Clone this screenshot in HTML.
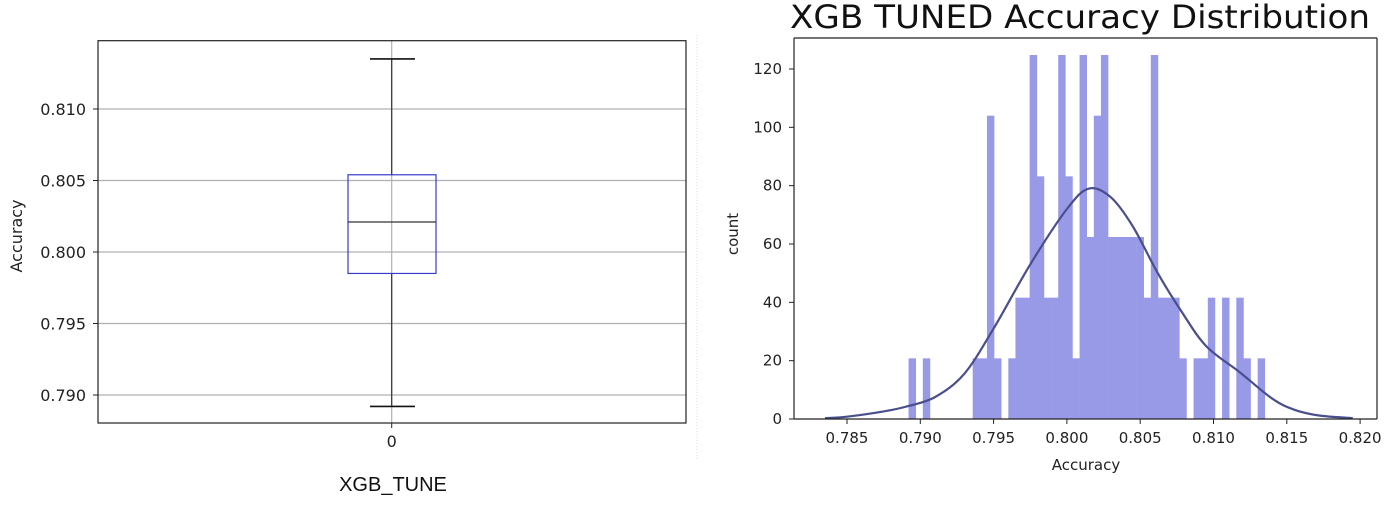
<!DOCTYPE html>
<html><head><meta charset="utf-8"><style>
html,body{margin:0;padding:0;background:#fff;}
svg{display:block;font-family:"DejaVu Sans","Liberation Sans",sans-serif;}
</style></head><body>
<svg id="c" width="1400" height="510" viewBox="0 0 1400 510" xmlns="http://www.w3.org/2000/svg">
<g id="box"></g>
<g id="hist"></g>
</svg>
<script>
// Boxplot data
const boxTicks = [0.790, 0.795, 0.800, 0.805, 0.810];
const boxStats = {wlo: 0.7892, q1: 0.7985, med: 0.8021, q3: 0.8054, whi: 0.8135};
// Histogram data
const binStart = 0.7892;
const binEnd = 0.8135;
const histCounts = [20.8,0,20.8,0,0,0,0,0,0,20.8,20.8,104,20.8,0,20.8,41.6,41.6,124.8,83.2,41.6,41.6,124.8,83.2,20.8,124.8,62.4,104,124.8,62.4,62.4,62.4,62.4,62.4,41.6,124.8,41.6,41.6,41.6,20.8,0,20.8,20.8,41.6,0,41.6,0,41.6,20.8,0,20.8];
const kdeX = [0.7835,0.785,0.7875,0.7890,0.7910,0.7930,0.7950,0.7975,0.8000,0.8015,0.8030,0.8045,0.8062,0.8078,0.8095,0.8118,0.8140,0.8155,0.8172,0.8195];
const kdeY = [0.3,0.8,2.6,4.2,7.5,15.5,31,53,72,79,76,66,50,37,25,16,7,3.2,1.2,0.3];
const xTicks = [0.785,0.790,0.795,0.800,0.805,0.810,0.815,0.820];
const yTicks = [0,20,40,60,80,100,120];

const NS="http://www.w3.org/2000/svg";
function mk(parent,tag,attrs,text){const e=document.createElementNS(NS,tag);for(const k in attrs)e.setAttribute(k,attrs[k]);if(text!==undefined)e.textContent=text;parent.appendChild(e);return e;}

// ---- Boxplot ----
const B=document.getElementById('box');
const by=v=>395-(v-0.790)/0.005*71.5;
const bx0=98,bx1=686,btop=40.7,bbot=423,bc=391.7;
boxTicks.forEach(t=>{
  const g=mk(B,'line',{x1:bx0,x2:bx1,y1:by(t),y2:by(t),stroke:'#b0b0b0','stroke-width':1.2});
  
  
  const tk=mk(B,'line',{x1:bx0-5,x2:bx0,y1:by(t),y2:by(t),stroke:'#222','stroke-width':1});
  
  
  const l=mk(B,'text',{x:bx0-12,y:by(t)+6,'text-anchor':'end','font-size':16,fill:'#222'},t.toFixed(3));
  
  
});
let vg=mk(B,'line',{x1:bc,x2:bc,y1:btop,y2:bbot,stroke:'#b0b0b0','stroke-width':1.2});


let w1=mk(B,'line',{x1:bc,x2:bc,y1:by(boxStats.whi),y2:by(boxStats.q3),stroke:'#333','stroke-width':1.2});


let w2=mk(B,'line',{x1:bc,x2:bc,y1:by(boxStats.q1),y2:by(boxStats.wlo),stroke:'#333','stroke-width':1.2});


let c1=mk(B,'line',{x1:370,x2:415,y1:by(boxStats.whi),y2:by(boxStats.whi),stroke:'#111','stroke-width':1.6});


let c2=mk(B,'line',{x1:370,x2:415,y1:by(boxStats.wlo),y2:by(boxStats.wlo),stroke:'#111','stroke-width':1.6});


let bxr=mk(B,'rect',{x:348,y:by(boxStats.q3),width:88,height:by(boxStats.q1)-by(boxStats.q3),fill:'none',stroke:'#3a3acc','stroke-width':1.2});


let md=mk(B,'line',{x1:348,x2:436,y1:by(boxStats.med),y2:by(boxStats.med),stroke:'#333','stroke-width':1.2});


let fr=mk(B,'rect',{x:bx0,y:btop,width:bx1-bx0,height:bbot-btop,fill:'none',stroke:'#222','stroke-width':1.2});


let xt=mk(B,'line',{x1:bc,x2:bc,y1:bbot,y2:bbot+5,stroke:'#222'});


let xl=mk(B,'text',{x:bc,y:bbot+24,'text-anchor':'middle','font-size':16,fill:'#222'},'0');


let yt=mk(B,'text',{x:0,y:0,'text-anchor':'middle','font-size':16,fill:'#222',transform:'translate(22,236) rotate(-90)'},'Accuracy');


let xtt=mk(B,'text',{x:393,y:491,'text-anchor':'middle','font-size':20,fill:'#111','font-family':'Liberation Sans, sans-serif'},'XGB_TUNE');


let sep=mk(B,'line',{x1:697,x2:697,y1:35,y2:460,stroke:'#ddd','stroke-width':1,'stroke-dasharray':'1 2'});



// ---- Histogram ----
const H=document.getElementById('hist');
const hx0=794,hx1=1377,htop=38,hbot=419;
const hx=v=>847+(v-0.785)/0.005*73.3;
const hy=v=>hbot-v*(350/120);
const bw=(binEnd-binStart)/histCounts.length;
histCounts.forEach((c,i)=>{
  if(c<=0)return;
  const x=hx(binStart+i*bw), x2=hx(binStart+(i+1)*bw);
  const r=mk(H,'rect',{x:x,y:hy(c),width:x2-x+0.3,height:hbot-hy(c),fill:'#989ae8'});
  
  
});
// KDE smooth path (Catmull-Rom)
const pts=kdeX.map((v,i)=>[hx(v),hy(kdeY[i])]);
let d='M'+pts[0][0]+','+pts[0][1];
for(let i=0;i<pts.length-1;i++){
  const p0=pts[Math.max(0,i-1)],p1=pts[i],p2=pts[i+1],p3=pts[Math.min(pts.length-1,i+2)];
  const c1x=p1[0]+(p2[0]-p0[0])/6,c1y=p1[1]+(p2[1]-p0[1])/6;
  const c2x=p2[0]-(p3[0]-p1[0])/6,c2y=p2[1]-(p3[1]-p1[1])/6;
  d+=' C'+c1x+','+c1y+' '+c2x+','+c2y+' '+p2[0]+','+p2[1];
}
let kd=mk(H,'path',{d:d,fill:'none',stroke:'#4a4e8c','stroke-width':2.2});


let hl=mk(H,'line',{x1:hx0,x2:hx0,y1:htop,y2:hbot,stroke:'#222','stroke-width':1.2});


let hb=mk(H,'line',{x1:hx0,x2:hx1,y1:hbot,y2:hbot,stroke:'#222','stroke-width':1.2});


let ht=mk(H,'line',{x1:hx0,x2:hx1,y1:htop,y2:htop,stroke:'#222','stroke-width':1.2});


let hr=mk(H,'line',{x1:hx1,x2:hx1,y1:htop,y2:hbot,stroke:'#222','stroke-width':1.2});


yTicks.forEach(t=>{
  const tk=mk(H,'line',{x1:hx0-5,x2:hx0,y1:hy(t),y2:hy(t),stroke:'#222'});
  
  
  const l=mk(H,'text',{x:hx0-12,y:hy(t)+5,'text-anchor':'end','font-size':15,fill:'#222'},String(t));
  
  
});
xTicks.forEach(t=>{
  const tk=mk(H,'line',{x1:hx(t),x2:hx(t),y1:hbot,y2:hbot+5,stroke:'#222'});
  
  
  const l=mk(H,'text',{x:hx(t),y:hbot+24,'text-anchor':'middle','font-size':15,fill:'#222'},t.toFixed(3));
  
  
});
let hxt=mk(H,'text',{x:1086,y:470,'text-anchor':'middle','font-size':15,fill:'#222'},'Accuracy');


let hyt=mk(H,'text',{x:0,y:0,'text-anchor':'middle','font-size':15,fill:'#222',transform:'translate(738,234) rotate(-90)'},'count');


let ttl=mk(H,'text',{x:790,y:28,'font-size':32,fill:'#111',textLength:580,lengthAdjust:'spacingAndGlyphs'},'XGB TUNED Accuracy Distribution');


</script>
</body></html>
